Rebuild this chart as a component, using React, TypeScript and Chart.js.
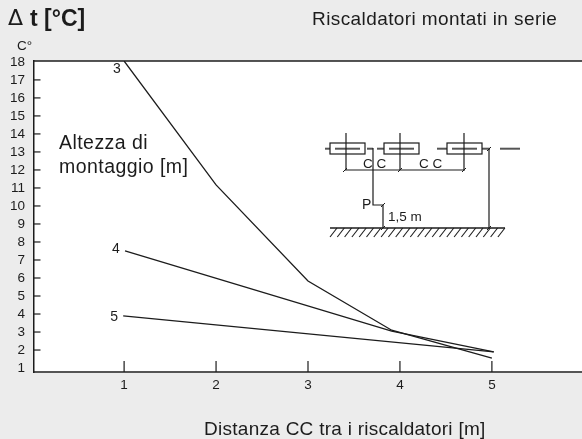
import React, { useEffect, useRef } from "react";
import { Chart, registerables } from "chart.js";

Chart.register(...registerables);

const xTicks = [1, 2, 3, 4, 5];
const yTicks = [1, 2, 3, 4, 5, 6, 7, 8, 9, 10, 11, 12, 13, 14, 15, 16, 17, 18];
const height3 = [
  { x: 1, y: 18.05 },
  { x: 2, y: 11.17 },
  { x: 3, y: 5.83 },
  { x: 3.91, y: 3.1 },
  { x: 5, y: 1.55 },
];
const height4 = [
  { x: 1.01, y: 7.5 },
  { x: 3.91, y: 3.05 },
  { x: 5.02, y: 1.9 },
];
const height5 = [
  { x: 0.99, y: 3.9 },
  { x: 5.02, y: 1.9 },
];
const seriesNames = ["3", "4", "5"];
const FONT = '"Liberation Sans", Arial, sans-serif';
const INK = "#1c1c1c";

const labelOffsets = [[-11, 12], [-13, 2], [-13, 5]];

type T = [string, number, number, string, string?];
const texts: T[] = [
  ["t [°C]", 30, 26, `bold 23px ${FONT}`],
  ["Δ", 8, 25, `22px "DejaVu Sans"`],
  ["Riscaldatori montati in serie", 312, 25, `19px ${FONT}`, "0.41px"],
  ["C°", 17, 50, `13.5px ${FONT}`],
  ["Altezza di", 59, 149, `19.5px ${FONT}`, "0.45px"],
  ["montaggio [m]", 59, 173, `19.5px ${FONT}`, "0.45px"],
  ["Distanza CC tra i riscaldatori [m]", 204, 435, `19px ${FONT}`, "0.27px"],
  ["C C", 363, 168, `13.5px ${FONT}`],
  ["C C", 419, 168, `13.5px ${FONT}`],
  ["P", 362, 209, `14px ${FONT}`],
  ["1,5 m", 388, 221, `13.5px ${FONT}`],
];

const decor = {
  id: "decor",
  beforeDraw(c: any) {
    const { ctx, chartArea: a } = c;
    ctx.save();
    ctx.fillStyle = "#ffffff";
    ctx.fillRect(a.left, a.top, a.right - a.left, a.bottom - a.top);
    ctx.restore();
  },
  afterDraw(c: any) {
    const { ctx, chartArea: a, scales } = c;
    ctx.save();
    const seg = (pts: number[], w = 1.2, col = INK) => {
      ctx.lineWidth = w;
      ctx.strokeStyle = col;
      ctx.beginPath();
      ctx.moveTo(pts[0], pts[1]);
      for (let i = 2; i < pts.length; i += 2) ctx.lineTo(pts[i], pts[i + 1]);
      ctx.stroke();
    };
    // top border
    seg([a.left, a.top, a.right, a.top], 1.5);
    // inner ticks
    yTicks.slice(1, -1).forEach((v) => {
      const y = scales.y.getPixelForValue(v);
      seg([a.left, y, a.left + 6.5, y], 1.2);
    });
    xTicks.forEach((v) => {
      const x = scales.x.getPixelForValue(v);
      seg([x, a.bottom, x, a.bottom - 11], 1.2);
    });
    // series labels
    ctx.fillStyle = INK;
    ctx.font = `14px ${FONT}`;
    ctx.textBaseline = "alphabetic";
    ctx.textAlign = "left";
    [height3, height4, height5].forEach((s, i) => {
      const x = scales.x.getPixelForValue(s[0].x) + labelOffsets[i][0];
      const y = scales.y.getPixelForValue(s[0].y) + labelOffsets[i][1];
      ctx.fillText(seriesNames[i], x, y);
    });
    // mounting sketch: dashed centre line
    [[325, 330], [335, 360], [367, 373], [377, 384], [389, 414], [437, 447], [452, 477], [482, 490], [500, 520]].forEach(
      ([x0, x1]) => seg([x0, 148.7, x1, 148.7], 2, "#555"),
    );
    [[330, 35], [384, 35], [447, 35]].forEach(([x, w]) => {
      ctx.lineWidth = 1.2;
      ctx.strokeStyle = INK;
      ctx.strokeRect(x, 143, w, 11);
    });
    [346, 400, 464].forEach((x) => seg([x, 133, x, 170], 1.2));
    seg([345, 170, 465, 170], 1.2);
    seg([373, 148, 373, 205, 383, 205, 383, 228], 1.2);
    seg([489, 149, 489, 228], 1.2);
    seg([330, 228, 505, 228], 1.5);
    for (let x = 337; x <= 505; x += 7.3) seg([x, 228, x - 7, 237], 1.1);
    [[345, 170], [400, 170], [464, 170], [383, 205], [383, 228], [489, 149], [489, 228]].forEach(([x, y]) =>
      seg([x - 2, y + 2, x + 2, y - 2], 1),
    );
    // text
    ctx.fillStyle = INK;
    texts.forEach(([t, x, y, f, sp]) => {
      ctx.font = f;
      ctx.letterSpacing = sp || "0px";
      ctx.fillText(t, x, y);
    });
    ctx.restore();
  },
};

export default function App() {
  const ref = useRef<HTMLCanvasElement>(null);
  useEffect(() => {
    const line = (data: any[]) => ({
      data,
      borderColor: INK,
      borderWidth: 1.3,
      pointRadius: 0,
      tension: 0,
      fill: false,
    });
    const chart = new Chart(ref.current!, {
      type: "line",
      data: {
        datasets: [line(height3), line(height4), line(height5)],
      },
      plugins: [decor],
      options: {
        animation: false,
        responsive: false,
        parsing: false,
        layout: { padding: { top: 61, left: 0, right: 0, bottom: 0 } },
        plugins: { legend: { display: false }, tooltip: { enabled: false } },
        scales: {
          x: {
            type: "linear",
            min: 0.02,
            max: 5.98,
            afterBuildTicks: (s: any) => {
              s.ticks = xTicks.map((value) => ({ value }));
            },
            afterFit: (s: any) => {
              s.height = 67;
            },
            grid: { display: false, drawTicks: false },
            border: { display: true, color: "#555555", width: 2 },
            ticks: {
              padding: 5,
              color: INK,
              font: { family: FONT, size: 13.5 },
              maxRotation: 0,
              callback: (v: any) => String(v),
            },
          },
          y: {
            type: "linear",
            min: 0.78,
            max: 18.05,
            afterBuildTicks: (s: any) => {
              s.ticks = yTicks.map((value) => ({ value }));
            },
            afterFit: (s: any) => {
              s.width = 34;
            },
            grid: { display: false, drawTicks: false },
            border: { display: true, color: INK, width: 1.5 },
            ticks: {
              padding: 9,
              autoSkip: false,
              color: INK,
              font: { family: FONT, size: 13.5 },
              callback: (v: any) => String(v),
            },
          },
        },
      },
    } as any);
    return () => chart.destroy();
  }, []);
  return (
    <div style={{ position: "fixed", left: 0, top: 0, width: 582, height: 439, background: "#ececec" }}>
      <canvas ref={ref} width={582} height={439} style={{ display: "block" }} />
    </div>
  );
}
